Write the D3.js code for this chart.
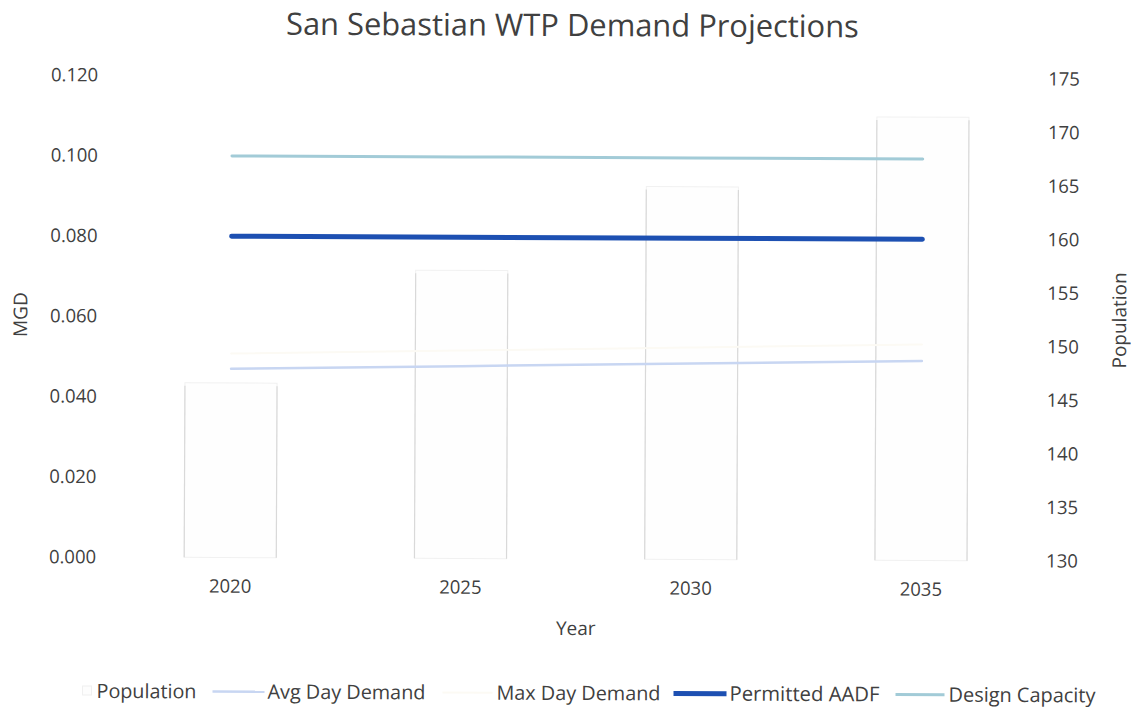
<!DOCTYPE html>
<html>
<head>
<meta charset="utf-8">
<script src="https://cdn.jsdelivr.net/npm/d3@7"></script>
<style>
  html, body { margin: 0; padding: 0; background: #ffffff; }
  svg { display: block; }
  text { font-family: "Open Sans", "Noto Sans", sans-serif; fill: #404040; }
</style>
</head>
<body>
<svg id="chart" width="1131" height="711"></svg>
<script>
// ---------- data ----------
const years = ["2020", "2025", "2030", "2035"];
const population = [146.3, 156.9, 164.8, 171.4];
const avgDayDemand = [0.0470, 0.0479, 0.0488, 0.0497];
const maxDayDemand = [0.0508, 0.0518, 0.0528, 0.0538];
const permittedAADF = [0.080, 0.080, 0.080, 0.080];
const designCapacity = [0.100, 0.100, 0.100, 0.100];
const leftTicks = [0, 0.02, 0.04, 0.06, 0.08, 0.10, 0.12];
const rightTicks = [130, 135, 140, 145, 150, 155, 160, 165, 170, 175];

const title = "San Sebastian WTP Demand Projections";
const legendItems = ["Population", "Avg Day Demand", "Max Day Demand", "Permitted AADF", "Design Capacity"];

// ---------- layout ----------
const plot = { left: 116, right: 1037, top: 77, bottom: 559 };

const svg = d3.select("#chart");
const root = svg.append("g").attr("transform", "rotate(0.25, 565, 355)");

const x = d3.scaleBand().domain(years)
  .range([plot.left, plot.right]).paddingInner(0.6).paddingOuter(0.3);
const yL = d3.scaleLinear().domain([0, 0.12]).range([plot.bottom, plot.top]);
const yR = d3.scaleLinear().domain([130, 175]).range([plot.bottom, plot.top]);
const cx = d => x(d) + x.bandwidth() / 2;

function fit(sel, target) {
  const n = sel.node();
  const s = parseFloat(sel.attr("font-size"));
  const w = n.getComputedTextLength();
  if (w > 0) sel.attr("font-size", s * target / w);
  return sel;
}

// ---------- bars (population, right axis) ----------
const barG = root.append("g");
const barData = years.map((y, i) => ({ y, v: population[i] }));
barG.selectAll("rect")
  .data(barData)
  .join("rect")
  .attr("x", d => x(d.y))
  .attr("width", x.bandwidth())
  .attr("y", d => yR(d.v))
  .attr("height", d => yR(130) - yR(d.v))
  .attr("fill", "#fefefe")
  .attr("stroke", "#f1f1f1")
  .attr("stroke-width", 1);
// faint scanned side edges
barG.selectAll("line.edge")
  .data(barData.flatMap(d => [{ d, side: 0 }, { d, side: 1 }]))
  .join("line")
  .attr("class", "edge")
  .attr("x1", e => x(e.d.y) + e.side * x.bandwidth())
  .attr("x2", e => x(e.d.y) + e.side * x.bandwidth())
  .attr("y1", e => yR(e.d.v) + 3)
  .attr("y2", yR(130))
  .attr("stroke", "#d9d9d9")
  .attr("stroke-width", 1.2);

// ---------- lines (left axis) ----------
const series = [
  { name: "Max Day Demand", values: maxDayDemand, color: "#fcfaf4", width: 2 },
  { name: "Avg Day Demand", values: avgDayDemand, color: "#c8d6f2", width: 2.5 },
  { name: "Design Capacity", values: designCapacity, color: "#a2cbd7", width: 3 },
  { name: "Permitted AADF", values: permittedAADF, color: "#1d50b2", width: 5 }
];
const line = d3.line().x(d => cx(d.y)).y(d => yL(d.v));
root.append("g").selectAll("path")
  .data(series)
  .join("path")
  .attr("d", s => line(years.map((y, i) => ({ y, v: s.values[i] }))))
  .attr("fill", "none")
  .attr("stroke", s => s.color)
  .attr("stroke-width", s => s.width)
  .attr("stroke-linecap", "round");

// ---------- axes ----------
const axL = root.append("g").attr("transform", `translate(${plot.left},0)`)
  .call(d3.axisLeft(yL).tickValues(leftTicks).tickFormat(d3.format(".3f")).tickSize(0).tickPadding(19));
const axR = root.append("g").attr("transform", `translate(${plot.right},0)`)
  .call(d3.axisRight(yR).tickValues(rightTicks).tickSize(0).tickPadding(10));
const axB = root.append("g").attr("transform", `translate(0,${plot.bottom})`)
  .call(d3.axisBottom(x).tickSize(0).tickPadding(22));
[axL, axR, axB].forEach(a => {
  a.select(".domain").remove();
  a.selectAll("text").attr("font-family", "Open Sans").attr("font-size", 18.5).attr("fill", "#404040");
});

// ---------- titles ----------
fit(root.append("text").attr("x", 571).attr("y", 36).attr("text-anchor", "middle")
  .attr("font-size", 27).attr("fill", "#2e2e2e").text(title), 573);

root.append("text").attr("x", 577).attr("y", 635).attr("text-anchor", "middle")
  .attr("font-size", 19).text("Year");

root.append("text").attr("transform", "translate(27,317) rotate(-90)").attr("text-anchor", "middle")
  .attr("font-size", 19).text("MGD");
root.append("text").attr("transform", "translate(1126,318) rotate(-90)").attr("text-anchor", "middle")
  .attr("font-size", 19).text("Population");

// ---------- legend ----------
const legY = 693;
const legendLayout = [
  { text: 0, tx: 98, tw: 100 },
  { text: 1, tx: 269, tw: 158, color: "#c8d6f2", sw: 2.5, lx: [214, 266] },
  { text: 2, tx: 498, tw: 164, color: "#fcfaf4", sw: 2, lx: [444, 494] },
  { text: 3, tx: 731, tw: 150, color: "#1d50b2", sw: 5, lx: [675, 728] },
  { text: 4, tx: 950, tw: 147, color: "#a2cbd7", sw: 3, lx: [897, 946] }
];
const leg = root.append("g");
legendLayout.forEach(l => {
  if (l.color) {
    leg.append("line").attr("x1", l.lx[0]).attr("x2", l.lx[1]).attr("y1", legY).attr("y2", legY)
      .attr("stroke", l.color).attr("stroke-width", l.sw);
  } else {
    leg.append("rect").attr("x", 84).attr("y", legY - 5).attr("width", 9).attr("height", 9)
      .attr("fill", "#fdfdfd").attr("stroke", "#f0f0f0");
  }
  fit(leg.append("text").attr("x", l.tx).attr("y", legY + 7).attr("font-size", 18)
    .text(legendItems[l.text]), l.tw);
});
</script>
</body>
</html>
